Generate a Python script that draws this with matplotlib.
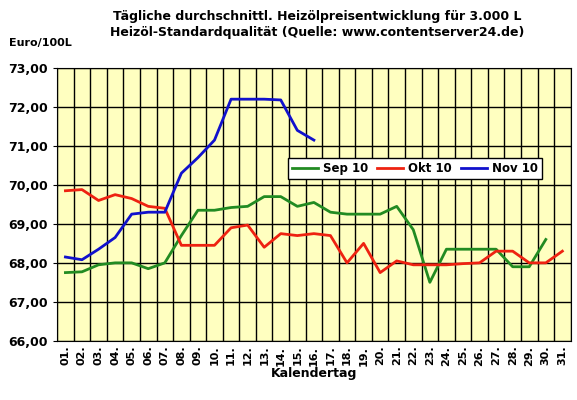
import matplotlib
matplotlib.use("Agg")
import matplotlib.pyplot as plt

days = [f"{d:02d}." for d in range(1, 32)]
sep10 = [67.75,67.77,67.95,68.0,68.0,67.85,68.0,68.7,69.35,69.35,69.42,69.45,69.7,69.7,69.45,
         69.55,69.3,69.25,69.25,69.25,69.45,68.85,67.5,68.35,68.35,68.35,68.35,67.9,67.9,68.6]
okt10 = [69.85,69.88,69.6,69.75,69.65,69.45,69.4,68.45,68.45,68.45,68.9,68.97,68.4,68.75,68.7,
         68.75,68.7,68.0,68.5,67.75,68.05,67.95,67.95,67.95,67.98,68.0,68.3,68.3,68.0,68.0,68.3]
nov10 = [68.15,68.08,68.35,68.65,69.25,69.3,69.3,70.3,70.7,71.15,72.2,72.2,72.2,72.18,71.4,71.15]

fig = plt.figure(figsize=(5.77, 4.0), dpi=100)
ax = fig.add_axes([0.099, 0.148, 0.89, 0.682])
ax.set_facecolor("#FFFFC0")
x = list(range(1, 32))
ax.plot(x[:len(sep10)], sep10, color="#228B22", lw=2, label="Sep 10")
ax.plot(x[:len(okt10)], okt10, color="#EE2211", lw=2, label="Okt 10")
ax.plot(x[:len(nov10)], nov10, color="#1111CC", lw=2, label="Nov 10")
ax.set_xlim(0.5, 31.5)
ax.set_ylim(66, 73)
ax.set_yticks([66 + i for i in range(8)])
ax.set_yticklabels([f"{66+i},00" for i in range(8)], fontsize=9, fontweight="bold")
ax.set_xticks(x)
ax.set_xticklabels(days, rotation=90, fontsize=8, fontweight="bold")
ax.set_xticks([i + 0.5 for i in range(0, 32)], minor=True)
ax.grid(False)
ax.grid(True, axis="y", which="major", color="black", lw=1)
ax.grid(True, axis="x", which="minor", color="black", lw=1)
ax.tick_params(axis="x", which="both", length=0)
ax.tick_params(axis="y", length=3)
ax.set_xlabel("Kalendertag", fontsize=9, fontweight="bold", labelpad=1)
fig.text(0.015, 0.885, "Euro/100L", fontsize=8, fontweight="bold")
fig.text(0.55, 0.975, "Tägliche durchschnittl. Heizölpreisentwicklung für 3.000 L\nHeizöl-Standardqualität (Quelle: www.contentserver24.de)",
         ha="center", va="top", fontsize=9, fontweight="bold", linespacing=1.3)
leg = fig.legend(loc="upper left", bbox_to_anchor=(282/577, 1-152/400), ncol=3,
                 prop={"weight": "bold", "size": 8.5},
                 fancybox=False, edgecolor="black", framealpha=1, handlelength=2.2,
                 columnspacing=0.8, handletextpad=0.4, borderpad=0.35)
fig.savefig("out.png", dpi=100)
